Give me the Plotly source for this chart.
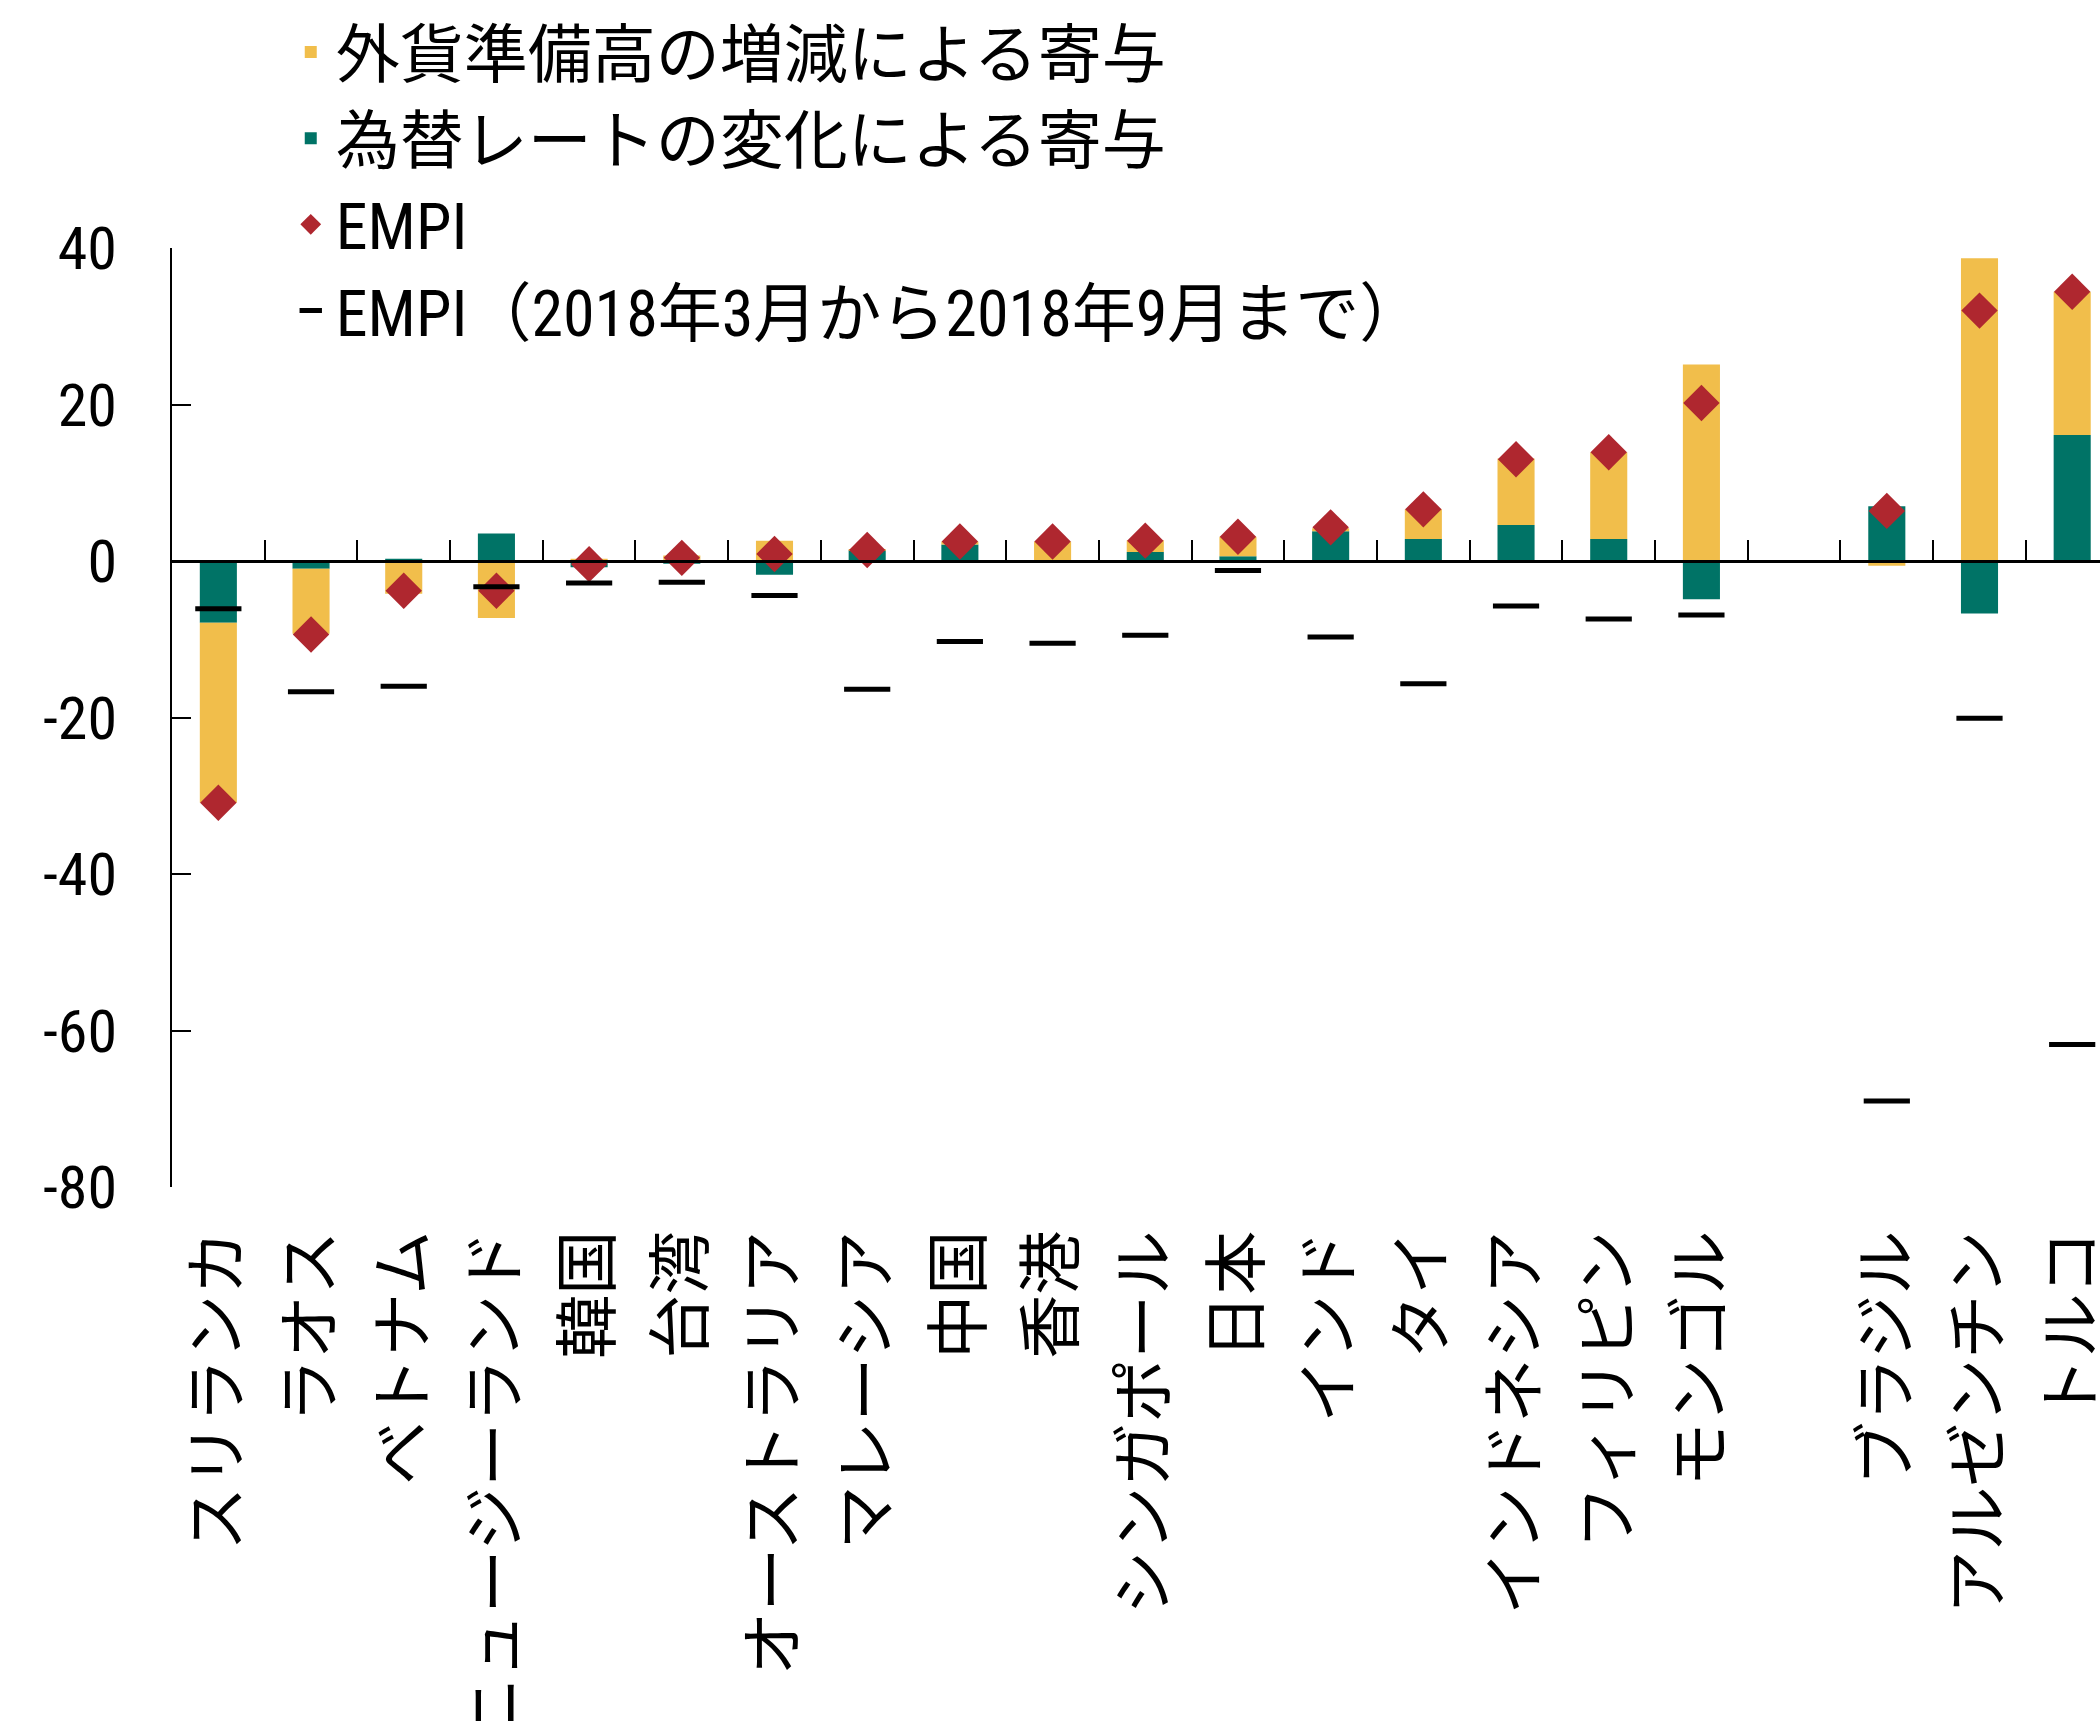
import plotly.graph_objects as go

# ---------------- data ----------------
categories = ["スリランカ", "ラオス", "ベトナム", "ニュージーランド", "韓国", "台湾",
              "オーストラリア", "マレーシア", "中国", "香港", "シンガポール", "日本",
              "インド", "タイ", "インドネシア", "フィリピン", "モンゴル", " ",
              "ブラジル", "アルゼンチン", "トルコ"]

fx_contrib = [-7.9, -1.0, 0.3, 3.5, -0.8, -0.35, -1.75, 1.4, 2.1, -0.1, 1.15, 0.6,
              3.8, 2.8, 4.6, 2.8, -4.9, None, 7.0, -6.7, 16.1]

reserve_contrib = [-23.0, -8.3, -4.2, -7.3, 0.3, 0.7, 2.6, 0.1, 0.4, 2.5, 1.5, 2.5,
                   0.4, 3.8, 8.5, 11.1, 25.1, None, -0.6, 38.7, 18.3]

empi = [-30.9, -9.4, -3.8, -3.8, -0.4, 0.4, 0.9, 1.4, 2.5, 2.5, 2.6, 3.1,
        4.3, 6.6, 13.0, 13.9, 20.2, None, 6.4, 32.0, 34.4]

empi_2018 = [-6.1, -16.7, -16.0, -3.3, -2.8, -2.7, -4.4, -16.4, -10.3, -10.5, -9.5, -1.2,
             -9.7, -15.7, -5.75, -7.4, -6.9, None, -69.0, -20.1, -61.8]

y_tick_values = [40, 20, 0, -20, -40, -60, -80]
y_tick_labels = ["40", "20", "0", "-20", "-40", "-60", "-80"]

name_reserve = "外貨準備高の増減による寄与"
name_fx = "為替レートの変化による寄与"
name_empi = "EMPI"
name_empi_2018 = "EMPI（2018年3月から2018年9月まで）"

# ---------------- style ----------------
ORANGE = "#F1BE4B"
TEAL = "#007366"
RED = "#AF272F"
FONT = ("'Liberation Sans Narrow', 'Arial Narrow', 'Roboto Condensed', "
        "'Open Sans Condensed', 'Noto Sans Condensed', 'DejaVu Sans Condensed', "
        "'Noto Sans CJK JP', sans-serif")

Y_MIN, Y_MAX = -80, 40
X_RANGE = [-0.5, 20.3]
zero_pos = (0 - Y_MIN) / (Y_MAX - Y_MIN)

fig = go.Figure()
fig.add_bar(x=categories, y=fx_contrib, name=name_fx, marker=dict(color=TEAL, line=dict(width=0)),
            legendrank=2)
fig.add_bar(x=categories, y=reserve_contrib, name=name_reserve,
            marker=dict(color=ORANGE, line=dict(width=0)), legendrank=1)
fig.add_scatter(x=categories, y=empi, mode="markers", name=name_empi,
                marker=dict(symbol="diamond", size=28, color=RED, line=dict(width=0)),
                legendrank=3)
fig.add_scatter(x=categories, y=empi_2018, mode="markers", name=name_empi_2018,
                marker=dict(symbol="line-ew", size=33, color="black",
                            line=dict(width=5, color="black")),
                legendrank=4)
# helper trace so the zero-line axis (x2) has a subplot
fig.add_scatter(x=list(range(len(categories))), y=[None] * len(categories), xaxis="x2",
                mode="markers", showlegend=False, hoverinfo="skip")

fig.update_layout(
    width=2100, height=1721,
    margin=dict(l=172, r=0, t=248, b=534, pad=0),
    template="none",
    plot_bgcolor="white", paper_bgcolor="white",
    font=dict(family=FONT, size=60, color="black"),
    barmode="relative", bargap=0.6,
    showlegend=True,
    legend=dict(x=0.059, y=1.26, xanchor="left", yanchor="top",
                font=dict(family=FONT, size=64, color="black"),
                bgcolor="rgba(0,0,0,0)", itemwidth=40, tracegroupgap=0),
    xaxis=dict(type="category", categoryorder="array", categoryarray=categories,
               range=X_RANGE, tickangle=-90, showline=False, ticks="",
               showgrid=False, zeroline=False, automargin=False,
               ticklabelstandoff=30, tickfont=dict(family=FONT, size=64)),
    xaxis2=dict(overlaying="x", anchor="free", position=zero_pos, type="linear",
                range=X_RANGE, tick0=0.5, dtick=1, ticks="inside", ticklen=20,
                tickwidth=2, tickcolor="black", showline=True, linecolor="black",
                linewidth=3, showticklabels=False, showgrid=False, zeroline=False),
    yaxis=dict(range=[Y_MIN, Y_MAX], tickmode="array", tickvals=y_tick_values,
               ticktext=y_tick_labels, ticks="inside", ticklen=19, tickwidth=2,
               tickcolor="black", showline=True, linecolor="black", linewidth=2,
               showgrid=False, zeroline=False, automargin=False,
               ticklabelstandoff=41, tickfont=dict(family=FONT, size=60)),
)

fig.write_html("out.html")
